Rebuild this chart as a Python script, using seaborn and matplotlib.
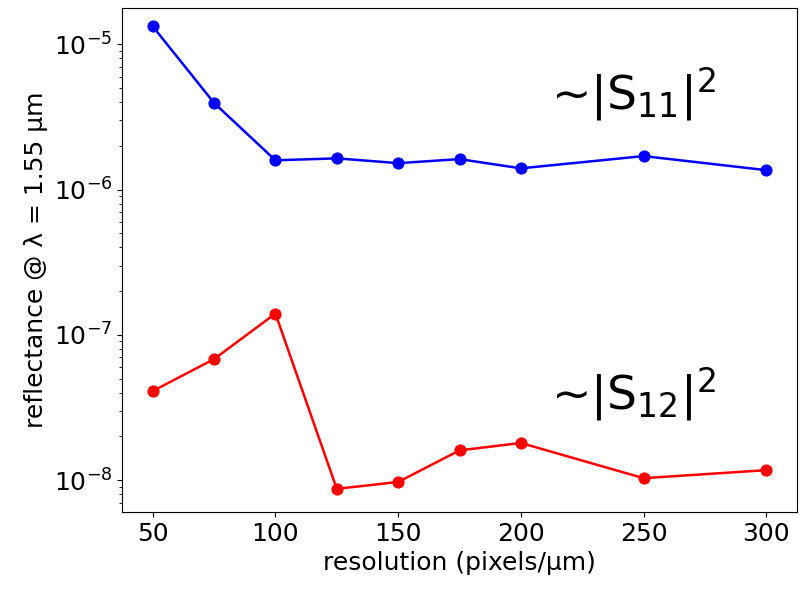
import matplotlib
matplotlib.use("Agg")
import matplotlib.pyplot as plt
import seaborn as sns

resolution = [50, 75, 100, 125, 150, 175, 200, 250, 300]
refl_s11 = [1.33e-5, 3.95e-6, 1.59e-6, 1.64e-6, 1.52e-6, 1.62e-6, 1.40e-6, 1.70e-6, 1.36e-6]
refl_s12 = [4.1e-8, 6.8e-8, 1.4e-7, 8.7e-9, 9.7e-9, 1.6e-8, 1.8e-8, 1.03e-8, 1.17e-8]

plt.rcParams["font.size"] = 18

fig = plt.figure(figsize=(8.01, 6.04), dpi=100)
ax = fig.add_axes([122 / 801, 92 / 604, 675 / 801, 504 / 604])

sns.lineplot(x=resolution, y=refl_s11, ax=ax, color="blue", marker="o",
             markersize=8, markeredgecolor="blue", linewidth=1.8)
sns.lineplot(x=resolution, y=refl_s12, ax=ax, color="red", marker="o",
             markersize=8, markeredgecolor="red", linewidth=1.8)
ax.set_yscale("log")
ax.set_xlim(37.5, 312.5)
ax.set_ylim(10 ** -8.22, 10 ** -4.75)
ax.set_xticks([50, 100, 150, 200, 250, 300])
ax.set_xlabel("resolution (pixels/μm)")
ax.set_ylabel("reflectance @ λ = 1.55 μm")

ax.text(0.635, 0.83, r"~|S$_{11}$|$^2$", transform=ax.transAxes, fontsize=34, va="center")
ax.text(0.635, 0.235, r"~|S$_{12}$|$^2$", transform=ax.transAxes, fontsize=34, va="center")

plt.savefig("out.png", dpi=100)
plt.close()
